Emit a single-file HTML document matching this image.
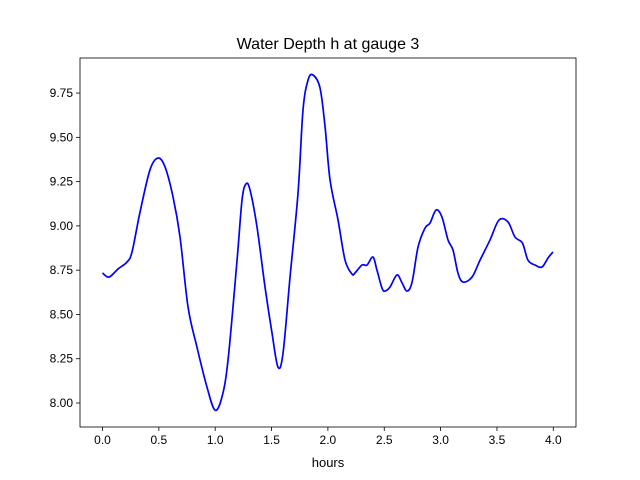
<!DOCTYPE html>
<html><head><meta charset="utf-8"><style>body{margin:0;background:#fff}svg{display:block;font-family:"Liberation Sans","DejaVu Sans",sans-serif}</style></head>
<body>
<svg width="640" height="480" viewBox="0 0 640 480" id="chart">
<rect width="640" height="480" fill="#fff"/>
<text x="328" y="49" font-size="16" text-anchor="middle">Water Depth h at gauge 3</text>
<g id="axes"></g>
<text x="328" y="467" font-size="13" text-anchor="middle">hours</text>
</svg>
<script>
const hours=[0.00,0.058,0.138,0.217,0.262,0.333,0.421,0.492,0.555,0.626,0.688,0.759,0.838,0.927,0.998,1.060,1.114,1.194,1.238,1.273,1.309,1.371,1.442,1.504,1.557,1.602,1.664,1.735,1.779,1.824,1.868,1.930,1.975,2.019,2.090,2.152,2.214,2.240,2.302,2.347,2.400,2.435,2.480,2.507,2.551,2.613,2.658,2.702,2.747,2.800,2.862,2.906,2.960,3.012,3.066,3.110,3.154,3.199,3.279,3.350,3.438,3.518,3.598,3.660,3.726,3.775,3.837,3.900,3.953,3.997];
const depth=[8.734,8.711,8.757,8.796,8.853,9.078,9.316,9.383,9.333,9.163,8.937,8.542,8.316,8.090,7.960,8.034,8.243,8.807,9.146,9.237,9.203,8.994,8.655,8.395,8.203,8.282,8.711,9.186,9.654,9.824,9.852,9.779,9.559,9.259,9.033,8.807,8.728,8.734,8.779,8.779,8.824,8.751,8.649,8.632,8.655,8.723,8.678,8.632,8.683,8.881,8.988,9.016,9.090,9.050,8.920,8.864,8.734,8.683,8.711,8.807,8.920,9.033,9.022,8.937,8.903,8.807,8.779,8.768,8.819,8.853];
const xTicks=[0,0.5,1,1.5,2,2.5,3,3.5,4];
const xTickLabels=["0.0","0.5","1.0","1.5","2.0","2.5","3.0","3.5","4.0"];
const yTicks=[8,8.25,8.5,8.75,9,9.25,9.5,9.75];
const yTickLabels=["8.00","8.25","8.50","8.75","9.00","9.25","9.50","9.75"];
const L=80,R=576,T=58,B=427;
const X=t=>102.5+t*112.7;
const Y=v=>403-(v-8)*177.1;
const NS="http://www.w3.org/2000/svg";
const g=document.getElementById('axes');
function mk(tag,attrs){const e=document.createElementNS(NS,tag);for(const k in attrs)e.setAttribute(k,attrs[k]);g.appendChild(e);return e;}
xTicks.forEach((t,i)=>{
  const l=mk('line',{x1:X(t),x2:X(t),y1:B,y2:B+4,stroke:'#000','stroke-width':0.8});
  
  
  const tx=mk('text',{x:X(t),y:B+17,'font-size':12,'text-anchor':'middle'});
  tx.textContent=xTickLabels[i];
  
  
});
yTicks.forEach((v,i)=>{
  const l=mk('line',{x1:L-4,x2:L,y1:Y(v),y2:Y(v),stroke:'#000','stroke-width':0.8});
  
  
  const tx=mk('text',{x:L-7,y:Y(v)+4,'font-size':12,'text-anchor':'end'});
  tx.textContent=yTickLabels[i];
  
  
});
const pts=hours.map((t,i)=>[X(t),Y(depth[i])]);
let d='M'+pts[0][0]+','+pts[0][1];
for(let i=0;i<pts.length-1;i++){
  const p0=pts[Math.max(0,i-1)],p1=pts[i],p2=pts[i+1],p3=pts[Math.min(pts.length-1,i+2)];
  const c1=[p1[0]+(p2[0]-p0[0])/6,p1[1]+(p2[1]-p0[1])/6];
  const c2=[p2[0]-(p3[0]-p1[0])/6,p2[1]-(p3[1]-p1[1])/6];
  d+=' C'+c1+' '+c2+' '+p2;
}
const line=mk('path',{d:d,fill:'none',stroke:'#0000ff','stroke-width':1.7,'stroke-linejoin':'round'});


const frame=mk('rect',{x:L,y:T,width:R-L,height:B-T,fill:'none',stroke:'#000','stroke-width':0.8});


</script>
</body></html>
